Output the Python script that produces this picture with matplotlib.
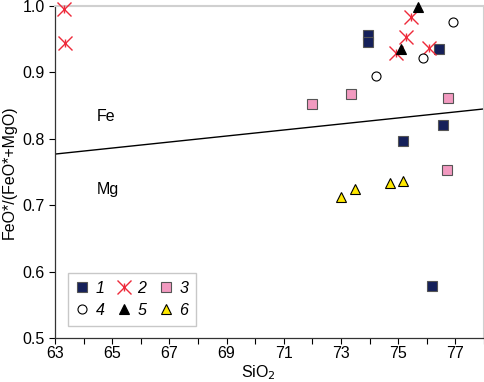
import matplotlib
matplotlib.use("Agg")
import matplotlib.pyplot as plt
from matplotlib.lines import Line2D
from matplotlib.legend_handler import HandlerTuple

plt.rcParams['font.family'] = ['Liberation Sans', 'DejaVu Sans']

# Data
s1_x = [73.93, 73.93, 76.41, 76.56, 75.17, 76.18]
s1_y = [0.957, 0.946, 0.935, 0.821, 0.796, 0.578]
s2_x = [63.32, 63.35, 75.45, 75.29, 74.93, 76.07]
s2_y = [0.995, 0.944, 0.983, 0.954, 0.929, 0.937]
s3_x = [71.97, 73.36, 76.73, 76.69]
s3_y = [0.853, 0.867, 0.862, 0.753]
s4_x = [76.91, 75.87, 74.22]
s4_y = [0.976, 0.922, 0.894]
s5_x = [75.68, 75.11]
s5_y = [0.999, 0.935]
s6_x = [72.99, 73.50, 74.73, 75.18]
s6_y = [0.712, 0.724, 0.733, 0.736]
line_x = [63, 78]
line_y = [0.777, 0.845]
x_ticks = list(range(63, 79))
x_labels = [str(v) if v % 2 == 1 else '' for v in x_ticks]
y_ticks = [0.5, 0.6, 0.7, 0.8, 0.9, 1.0]
y_labels = ['0.5', '0.6', '0.7', '0.8', '0.9', '1.0']

fig = plt.figure(figsize=(4.85, 3.82), dpi=100)
ax = fig.add_axes([55/485, 44/382, 429/485, 332/382])
ax.set_xlim(63, 78)
ax.set_ylim(0.5, 1.0)

ax.plot(line_x, line_y, color='black', lw=1.0, zorder=2)

navy = '#15205a'
pink = '#f29ac0'
red = '#ee2a3a'
yellow = '#ffe800'
ms = 6.6

ax.plot(s1_x, s1_y, ls='none', marker='s', ms=ms, mfc=navy, mec='#555555', mew=0.8, zorder=3, clip_on=False)
ax.plot(s2_x, s2_y, ls='none', marker='x', ms=9.5, mec=red, mew=1.0, zorder=3, clip_on=False)
ax.plot(s2_x, s2_y, ls='none', marker='|', ms=6, mec=red, mew=1.0, zorder=3, clip_on=False)
ax.plot(s3_x, s3_y, ls='none', marker='s', ms=ms, mfc=pink, mec='#555555', mew=0.8, zorder=3, clip_on=False)
ax.plot(s4_x, s4_y, ls='none', marker='o', ms=6.5, mfc='white', mec='black', mew=0.8, zorder=3, clip_on=False)
ax.plot(s5_x, s5_y, ls='none', marker='^', ms=7.5, mfc='black', mec='black', mew=0.8, zorder=3, clip_on=False)
ax.plot(s6_x, s6_y, ls='none', marker='^', ms=7.5, mfc=yellow, mec='black', mew=0.8, zorder=3, clip_on=False)

ax.text(64.78, 0.833, 'Fe', fontsize=11.5, ha='center', va='center')
ax.text(64.85, 0.723, 'Mg', fontsize=11.5, ha='center', va='center')

ax.set_xticks(x_ticks)
ax.set_xticklabels(x_labels)
ax.set_yticks(y_ticks)
ax.set_yticklabels(y_labels)
ax.tick_params(axis='both', labelsize=11.5, direction='out', length=4, width=0.8, colors='black')
ax.tick_params(axis='x', pad=2)

for side in ['top', 'right']:
    ax.spines[side].set_color('#d0d0d0')
    ax.spines[side].set_linewidth(1.5)
for side in ['left', 'bottom']:
    ax.spines[side].set_color('#333333')
    ax.spines[side].set_linewidth(0.9)

ax.set_xlabel('SiO$_2$', fontsize=11.5)
ax.xaxis.set_label_coords(0.475, -0.075)
ax.set_ylabel('FeO*/(FeO*+MgO)', fontsize=11.5, labelpad=4)

h1 = Line2D([], [], ls='none', marker='s', ms=ms, mfc=navy, mec='#555555', mew=0.8)
h2a = Line2D([], [], ls='none', marker='x', ms=9.5, mec=red, mew=1.0)
h2b = Line2D([], [], ls='none', marker='|', ms=6, mec=red, mew=1.0)
h3 = Line2D([], [], ls='none', marker='s', ms=ms, mfc=pink, mec='#555555', mew=0.8)
h4 = Line2D([], [], ls='none', marker='o', ms=6.5, mfc='white', mec='black', mew=0.8)
h5 = Line2D([], [], ls='none', marker='^', ms=7.5, mfc='black', mec='black', mew=0.8)
h6 = Line2D([], [], ls='none', marker='^', ms=7.5, mfc=yellow, mec='black', mew=0.8)

handles = [h1, h4, (h2a, h2b), h5, h3, h6]
labels = ['1', '4', '2', '5', '3', '6']
leg = ax.legend(handles, labels, ncol=3, loc='lower left', bbox_to_anchor=(13/429, 12/332),
                frameon=True, fancybox=False, edgecolor='#c8c8c8', framealpha=1,
                prop={'style': 'italic', 'size': 11.5},
                handler_map={tuple: HandlerTuple(ndivide=1, pad=0)},
                handlelength=0.8, handletextpad=0.45, columnspacing=0.8,
                labelspacing=0.45, borderpad=0.5, borderaxespad=0)
leg.get_frame().set_linewidth(1.0)

fig.savefig('out.png', dpi=100)
